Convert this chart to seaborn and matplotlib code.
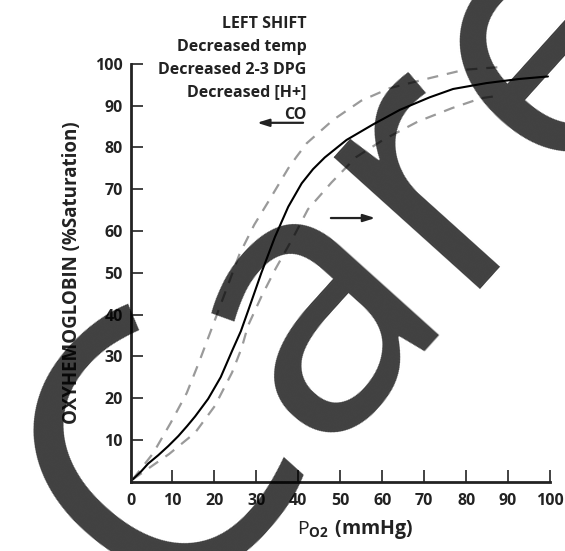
import matplotlib
matplotlib.use('Agg')
import matplotlib.pyplot as plt
import seaborn as sns

# oxygen-hemoglobin dissociation curves
po2_normal = [0.5, 2.5, 4.2, 6.6, 9.0, 11.4, 13.5, 15.4, 18.5, 21.5, 24.3, 26.3, 28.0,
              31.2, 34.4, 37.6, 40.8, 43.5, 46.3, 51.5, 57.8, 64.2, 71.3, 76.9, 84.8,
              92.7, 99.5]
sat_normal = [0.5, 2.4, 4.3, 6.3, 8.5, 10.9, 13.3, 15.6, 19.8, 25.0, 31.5, 36.0, 40.8,
              50.0, 58.5, 65.8, 71.4, 74.8, 77.6, 81.8, 85.5, 89.0, 92.0, 94.0, 95.4,
              96.4, 97.0]

po2_left = [0.5, 5.4, 9.6, 13.4, 16.3, 19.3, 22.5, 26.0, 29.5, 33.2, 37.6, 39.6, 42.0,
            48.3, 55.0, 61.8, 71.3, 79.6, 87.5]
sat_left = [0.5, 6.8, 14.1, 21.2, 28.5, 36.5, 45.1, 54.5, 61.5, 67.6, 75.0, 77.8, 81.0,
            86.6, 91.2, 94.2, 96.6, 98.6, 99.2]

po2_right = [0.5, 9.2, 15.4, 20.1, 24.2, 26.5, 28.0, 31.2, 34.6, 38.8, 42.3, 47.9,
             53.8, 60.2, 68.5, 76.6, 83.6, 86.5]
sat_right = [0.5, 6.6, 11.7, 18.1, 26.1, 32.0, 37.3, 44.3, 51.0, 58.5, 65.2, 71.6,
             77.7, 81.8, 86.2, 89.4, 91.8, 92.2]

x_ticks = [0, 10, 20, 30, 40, 50, 60, 70, 80, 90, 100]
y_ticks = [10, 20, 30, 40, 50, 60, 70, 80, 90, 100]
shift_notes = ['LEFT SHIFT', 'Decreased temp', 'Decreased 2-3 DPG', 'Decreased [H+]', 'CO']

sns.set_style('ticks')
plt.rcParams['font.family'] = ['Open Sans', 'DejaVu Sans']
plt.rcParams['mathtext.fontset'] = 'custom'
plt.rcParams['mathtext.rm'] = 'Open Sans'
plt.rcParams['mathtext.bf'] = 'Open Sans:bold'

ink = '#222222'
fig = plt.figure(figsize=(5.65, 5.51), dpi=100)
ax = fig.add_axes([0.231, 0.126, 0.7425, 0.758])

sns.lineplot(x=po2_left, y=sat_left, ax=ax, color='#9a9a9a', lw=1.6,
             linestyle=(0, (5, 4)), clip_on=False)
sns.lineplot(x=po2_right, y=sat_right, ax=ax, color='#9a9a9a', lw=1.6,
             linestyle=(0, (5, 4)), clip_on=False)
sns.lineplot(x=po2_normal, y=sat_normal, ax=ax, color='black', lw=1.5, clip_on=False)

ax.set_xlim(0, 100)
ax.set_ylim(0, 100)
ax.set_xticks(x_ticks)
ax.set_yticks(y_ticks)
ax.set_xticklabels([str(t) for t in x_ticks], fontweight='bold', color=ink)
ax.set_yticklabels([str(t) for t in y_ticks], fontweight='bold', color=ink)
ax.tick_params(direction='in', length=8.6, width=1.2, labelsize=11.5, color=ink)
ax.tick_params(axis='x', pad=8)
ax.tick_params(axis='y', pad=5.5)
sns.despine(ax=ax)
for side in ['left', 'bottom']:
    ax.spines[side].set_linewidth(2)
    ax.spines[side].set_color(ink)

ax.set_xlabel(r'$\mathrm{P}_{\mathbf{O2}}\ \mathbf{(mmHg)}$', fontsize=14, color=ink)
ax.xaxis.set_label_coords(0.535, -0.087)
ax.set_ylabel('OXYHEMOGLOBIN (%Saturation)', fontsize=13.5, fontweight='bold', color=ink)
ax.yaxis.set_label_coords(-0.115, 0.5)

# left shift notes, right aligned above the curves
for i, line in enumerate(shift_notes):
    ax.text(42, 109.5 - i * 5.45, line, ha='right', va='center', fontsize=11.5,
            fontweight='bold', color=ink, clip_on=False)

ax.annotate('', xy=(29.5, 85.9), xytext=(41.8, 85.9),
            arrowprops=dict(arrowstyle='-|>,head_length=0.7,head_width=0.22', lw=1.6, color=ink))
ax.annotate('', xy=(59.0, 63.1), xytext=(47.1, 63.1),
            arrowprops=dict(arrowstyle='-|>,head_length=0.7,head_width=0.22', lw=1.6, color=ink))

# watermark
fig.text(0.627, 0.528, 'Care', fontsize=265, rotation=48, ha='center', va='center',
         rotation_mode='anchor', color='black', alpha=0.75)

fig.savefig('out.png', dpi=100)
